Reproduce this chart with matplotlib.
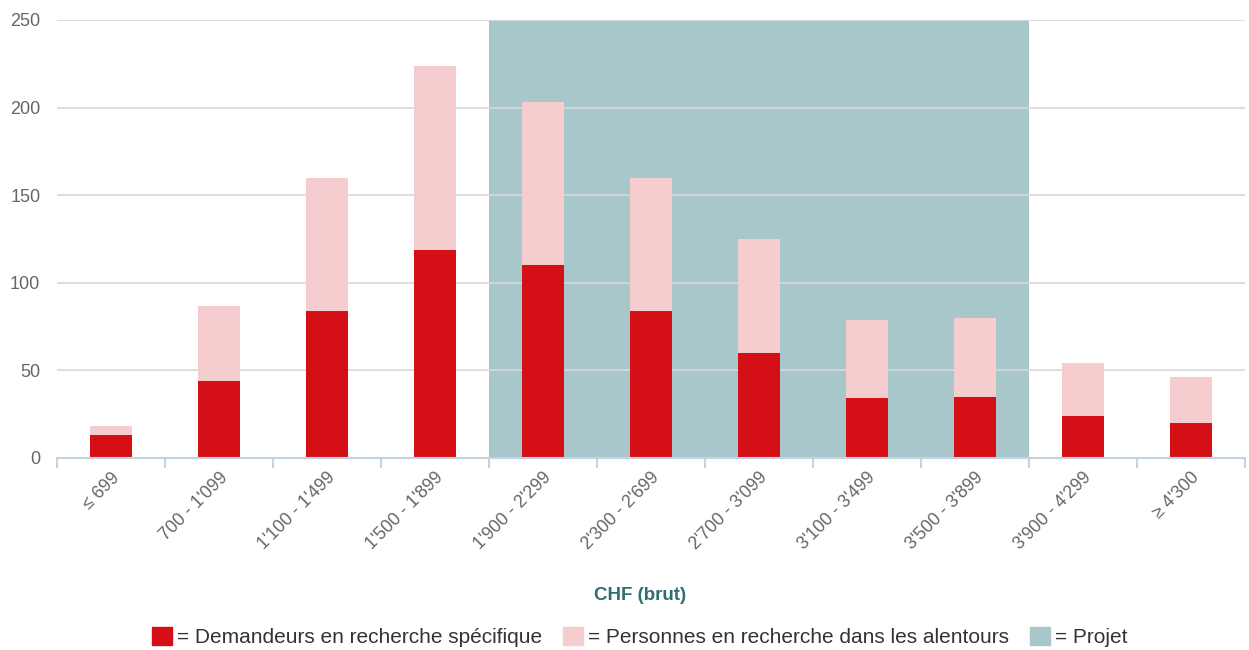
#!/usr/bin/env python

import numpy as np
import matplotlib.pyplot as plt
from matplotlib.patches import Patch

categories = ['≤ 699', "700 - 1'099", "1'100 - 1'499", "1'500 - 1'899", "1'900 - 2'299",
              "2'300 - 2'699", "2'700 - 3'099", "3'100 - 3'499", "3'500 - 3'899",
              "3'900 - 4'299", "≥ 4'300"]
specific = [13, 44, 84, 119, 110, 84, 60, 34, 35, 24, 20]
total = [18, 87, 160, 224, 203, 160, 125, 79, 80, 54, 46]
nearby = [t - s for t, s in zip(total, specific)]
project_range = (4, 8)  # first and last category index of the project band

RED = '#d41016'
PINK = '#f5cdcf'
TEAL = '#a7c7ca'


def main():
    plt.rcParams['font.family'] = ['Liberation Sans', 'DejaVu Sans']

    fig = plt.figure(figsize=(12.49, 6.5), dpi=100)
    ax = fig.add_axes([57 / 1249, 1 - 458 / 650, 1188 / 1249, 438 / 650])

    x = np.arange(len(categories))
    ax.axvspan(project_range[0] - 0.5, project_range[1] + 0.5, color=TEAL, lw=0, zorder=0)
    ax.bar(x, specific, width=0.38, color=RED, zorder=3)
    ax.bar(x, nearby, width=0.38, bottom=specific, color=PINK, zorder=3)

    ax.set_xlim(-0.5, len(categories) - 0.5)
    ax.set_ylim(0, 250)
    ax.set_yticks(range(0, 251, 50))
    ax.yaxis.grid(True, color='#d8d8d8', lw=1.2, zorder=1)
    ax.set_axisbelow(False)
    for line in ax.get_ygridlines():
        line.set_zorder(1)

    for side in ['top', 'right', 'left']:
        ax.spines[side].set_visible(False)
    ax.spines['bottom'].set_color('#c4d2e2')
    ax.spines['bottom'].set_linewidth(1.5)
    ax.spines['bottom'].set_zorder(4)

    ax.tick_params(axis='y', length=0, labelsize=13, labelcolor='#666666', pad=12)
    ax.set_xticks(np.arange(-0.5, len(categories), 1))
    ax.set_xticklabels([])
    ax.tick_params(axis='x', which='major', length=7.5, width=1.5, color='#c4d2e2')
    ax.set_xticks(x, minor=True)
    ax.set_xticklabels(categories, minor=True, rotation=45, ha='right',
                       rotation_mode='anchor', fontsize=12.8, color='#666666')
    ax.tick_params(axis='x', which='minor', length=0, pad=8)

    fig.text(640 / 1249, 1 - 596 / 650, 'CHF (brut)', ha='center', va='center',
             fontsize=13.5, fontweight='bold', color='#2f6e71')

    handles = [Patch(color=RED), Patch(color=PINK), Patch(color=TEAL)]
    labels = ['= Demandeurs en recherche spécifique',
              '= Personnes en recherche dans les alentours', '= Projet']
    fig.legend(handles, labels, loc='center', bbox_to_anchor=(640 / 1249, 1 - 637 / 650),
               ncol=3, frameon=False, fontsize=15, handlelength=0.95, handleheight=0.95,
               handletextpad=0.25, columnspacing=1.0, labelcolor='#333333')

    plt.savefig('out.png', dpi=100)


if __name__ == '__main__':
    main()
